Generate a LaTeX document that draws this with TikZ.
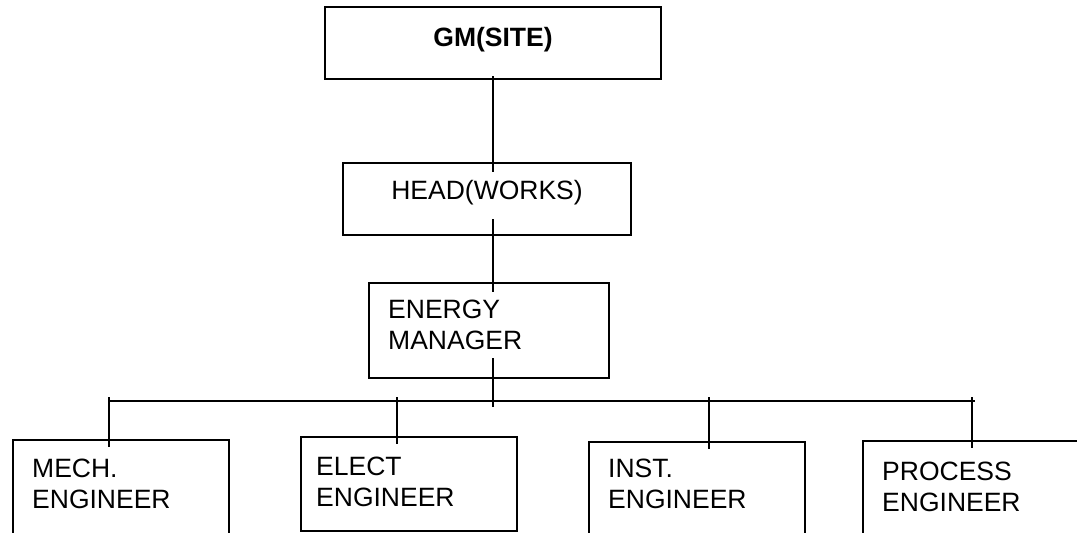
\documentclass[tikz,border=0pt]{standalone}
\usepackage{fontspec}
\setmainfont{Liberation Sans}
\usetikzlibrary{positioning, calc}

\begin{document}
\begin{tikzpicture}[
    x=1pt, y=-1pt,
    box/.style={rectangle, draw, line width=1.5pt, inner sep=0pt, outer sep=0pt, anchor=north west},
    txt/.style={inner sep=0pt, align=left, font=\fontsize{26.5}{31}\selectfont},
    wire/.style={line width=1.5pt}
]
  \useasboundingbox (0,0) rectangle (1077,533);
  \clip (0,0) rectangle (1077,533);

  % Boxes
  \node[box, minimum width=336pt, minimum height=72pt] (gm) at (325,7) {};
  \node[box, minimum width=288pt, minimum height=72pt] (head) at (343,163) {};
  \node[box, minimum width=240pt, minimum height=95pt] (energy) at (369,283) {};
  \node[box, minimum width=216pt, minimum height=130pt] (mech) at (13,440) {};
  \node[box, minimum width=216pt, minimum height=94pt] (elect) at (301,437) {};
  \node[box, minimum width=216pt, minimum height=130pt] (inst) at (589,442) {};
  \node[box, minimum width=216pt, minimum height=130pt] (proc) at (863,441) {};

  % Labels (base = last line)
  \node[txt, font=\fontsize{26.5}{31}\selectfont\bfseries, anchor=base] (gmt) at ($(gm.north)+(0,39)$) {GM(SITE)};
  \node[txt, anchor=base] (headt) at ($(head.north)+(0,36)$) {HEAD(WORKS)};
  \node[txt, anchor=base west] (energyt) at ($(energy.north west)+(19,66)$) {ENERGY\\MANAGER};
  \node[txt, anchor=base west] (mecht) at ($(mech.north west)+(19,68)$) {MECH.\\ENGINEER};
  \node[txt, anchor=base west] (electt) at ($(elect.north west)+(15,69)$) {ELECT\\ENGINEER};
  \node[txt, anchor=base west] (instt) at ($(inst.north west)+(19,66)$) {INST.\\ENGINEER};
  \node[txt, anchor=base west] (proct) at ($(proc.north west)+(19,70)$) {PROCESS\\ENGINEER};

  % Trunk
  \coordinate (bus) at (gm.south |- 0,401);
  \coordinate (busL) at (109,401);
  \coordinate (busR) at (975,401);
  \draw[wire] ($(gm.south)+(0,-3)$) -- ($(head.north -| gm.south)+(0,9)$);
  \draw[wire] ($(head.south -| gm.south)+(0,-16)$) -- ($(energy.north -| gm.south)+(0,9)$);
  \draw[wire] ($(energy.south -| gm.south)+(0,-20)$) -- ($(bus)+(0,6)$);
  \draw[wire] (busL) -- (busR);

  % Drops
  \foreach \n/\dx in {mech/-12, elect/-12, inst/12, proc/1}
    \draw[wire] ($(\n.north |- bus)+(\dx,-4)$) -- ($(\n.north)+(\dx,7)$);
\end{tikzpicture}
\end{document}
